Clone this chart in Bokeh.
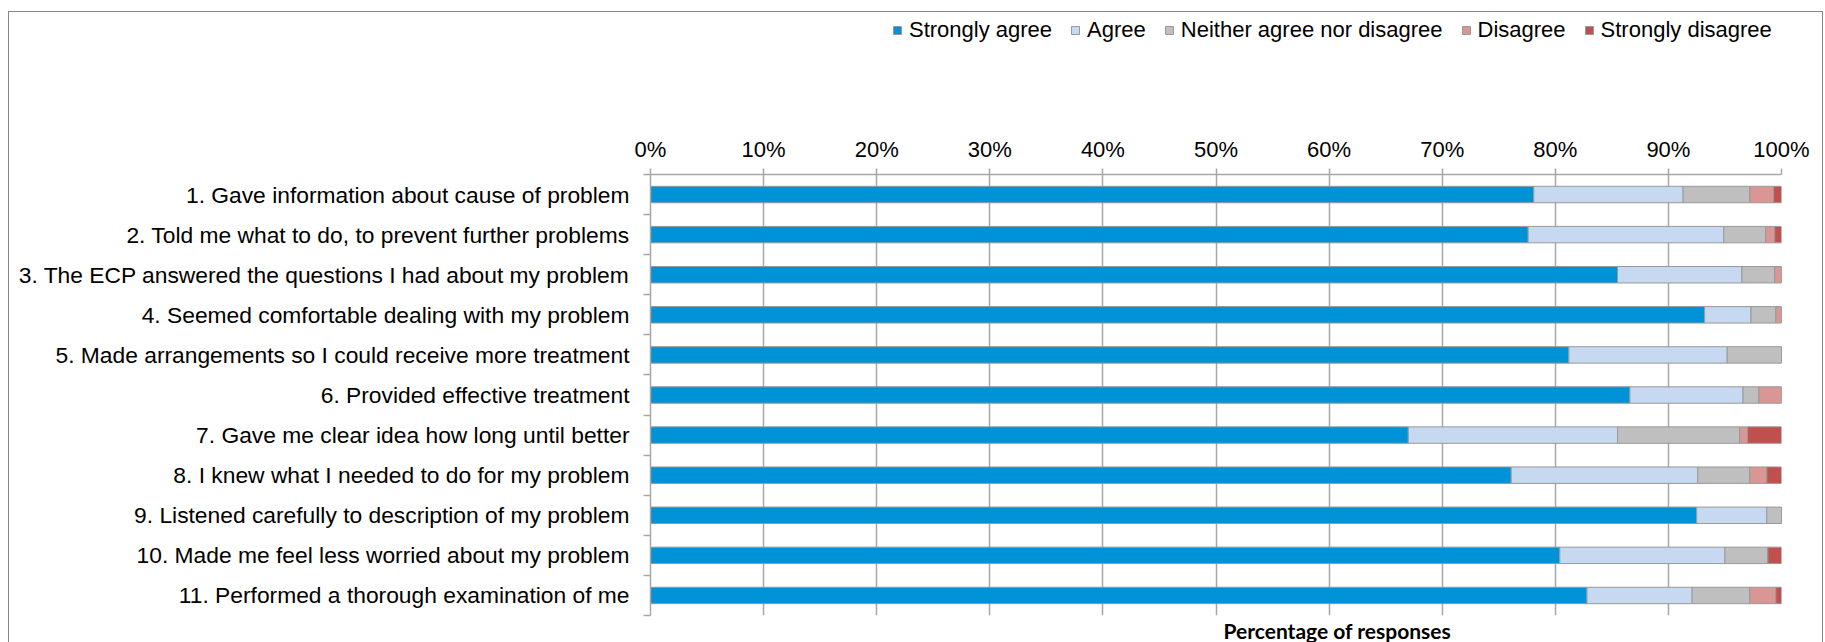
from bokeh.plotting import figure
from bokeh.layouts import column
from bokeh.models import (Range1d, FixedTicker, PrintfTickFormatter, Legend, LegendItem,
                          Title, ColumnDataSource, InlineStyleSheet)
from bokeh.embed import file_html
from bokeh.resources import INLINE

categories = [
    "1. Gave information about cause of problem",
    "2. Told me what to do, to prevent further problems",
    "3. The ECP answered the questions I had about my problem",
    "4. Seemed comfortable dealing with my problem",
    "5. Made arrangements so I could receive more treatment",
    "6. Provided effective treatment",
    "7. Gave me clear idea how long until better",
    "8. I knew what I needed to do for my problem",
    "9. Listened carefully to description of my problem",
    "10. Made me feel less worried about my problem",
    "11. Performed a thorough examination of me",
]
series_names = ["Strongly agree", "Agree", "Neither agree nor disagree", "Disagree", "Strongly disagree"]
strongly_agree = [78.1, 77.6, 85.5, 93.2, 81.2, 86.6, 67.0, 76.1, 92.5, 80.4, 82.8]
agree = [13.2, 17.3, 11.0, 4.1, 14.0, 10.0, 18.5, 16.5, 6.2, 14.6, 9.3]
neither = [5.9, 3.7, 2.9, 2.2, 4.8, 1.4, 10.8, 4.6, 1.3, 3.8, 5.1]
disagree = [2.1, 0.8, 0.6, 0.5, 0.0, 2.0, 0.7, 1.5, 0.0, 0.0, 2.3]
strongly_disagree = [0.7, 0.6, 0.0, 0.0, 0.0, 0.0, 3.0, 1.3, 0.0, 1.2, 0.5]
x_ticks = [0, 10, 20, 30, 40, 50, 60, 70, 80, 90, 100]
x_title = "Percentage of responses"

colors = ["#0092D6", "#C6D9F1", "#BFBFBF", "#DA9694", "#C0504D"]
OUTLINE = "#999999"
GRID = "#A6A6A6"
FONT = "Liberation Sans"
LEG_H = 50
stack_cols = ["s0", "s1", "s2", "s3", "s4"]

n = len(categories)
y_centers = [n - i - 0.5 for i in range(n)]
y_bounds = [float(k) for k in range(n + 1)]

src = ColumnDataSource(dict(
    y=y_centers,
    s0=strongly_agree, s1=agree, s2=neither, s3=disagree, s4=strongly_disagree,
))

# ---------------- legend strip ----------------
lg = figure(width=1825, height=LEG_H, output_backend="svg", toolbar_location=None,
            x_range=Range1d(0, 100), y_range=Range1d(0, n),
            x_axis_location=None, y_axis_location=None,
            min_border_left=650, min_border_right=44, min_border_top=0, min_border_bottom=0)
lg.outline_line_color = None
lg.grid.grid_line_color = None
lg.background_fill_color = None
lg.border_fill_color = None
leg_renderers = lg.hbar_stack(stack_cols, y="y", height=0.41, color=colors,
                              line_color=OUTLINE, line_width=1, source=src)
for r in leg_renderers:
    r.visible = False
legend = Legend(items=[LegendItem(label=nm, renderers=[r]) for nm, r in zip(series_names, leg_renderers)],
                orientation="horizontal", location=(242, 7),
                label_text_font=FONT, label_text_font_size="22px", label_text_color="black",
                glyph_width=10, glyph_height=10, label_standoff=7, spacing=18,
                padding=0, margin=0, border_line_color=None, background_fill_alpha=0,
                label_height=22)
lg.add_layout(legend, "center")

# ---------------- main chart ----------------
p = figure(width=1825, height=642 - LEG_H, output_backend="svg", toolbar_location=None,
           x_range=Range1d(0, 100), y_range=Range1d(0, n),
           x_axis_location="above",
           min_border_left=650, min_border_right=44, min_border_top=174 - LEG_H,
           min_border_bottom=23)
p.outline_line_color = None
p.background_fill_color = "white"
p.border_fill_color = None

p.hbar_stack(stack_cols, y="y", height=0.41, color=colors,
             line_color=OUTLINE, line_width=1, source=src)

xa = p.xaxis[0]
xa.ticker = FixedTicker(ticks=x_ticks)
xa.formatter = PrintfTickFormatter(format="%d%%")
xa.axis_line_color = GRID
xa.axis_line_width = 1.5
xa.major_tick_line_color = GRID
xa.major_tick_line_width = 1.5
xa.major_tick_out = 6
xa.major_tick_in = 0
xa.minor_tick_line_color = None
xa.major_label_text_font = FONT
xa.major_label_text_font_size = "22px"
xa.major_label_text_color = "black"
xa.major_label_standoff = 7

p.xgrid.ticker = FixedTicker(ticks=x_ticks)
p.xgrid.grid_line_color = GRID
p.xgrid.grid_line_width = 1.5
p.ygrid.grid_line_color = None

ya = p.yaxis[0]
ya.ticker = FixedTicker(ticks=y_centers, minor_ticks=y_bounds)
ya.major_label_overrides = {c: lab for c, lab in zip(y_centers, categories)}
ya.axis_line_color = GRID
ya.axis_line_width = 1.5
ya.major_tick_line_color = None
ya.minor_tick_line_color = GRID
ya.minor_tick_line_width = 1.5
ya.minor_tick_out = 7
ya.minor_tick_in = 0
ya.major_label_text_font = FONT
ya.major_label_text_font_size = "22.8px"
ya.major_label_text_color = "black"
ya.major_label_standoff = 14

p.add_layout(Title(text=x_title, align="left", offset=573, text_font="Lato",
                   text_font_style="bold", text_font_size="21px", text_color="black",
                   standoff=0), "below")

border_css = InlineStyleSheet(css="""
:host::after {
  content: "";
  position: absolute;
  left: 8px; top: 11px; right: 2px; bottom: 0px;
  border-top: 1.5px solid #868686;
  border-left: 1.5px solid #868686;
  border-right: 1.5px solid #868686;
  pointer-events: none;
}
""")

layout = column(lg, p, spacing=0, stylesheets=[border_css])

open("out.html", "w").write(file_html(layout, INLINE))
